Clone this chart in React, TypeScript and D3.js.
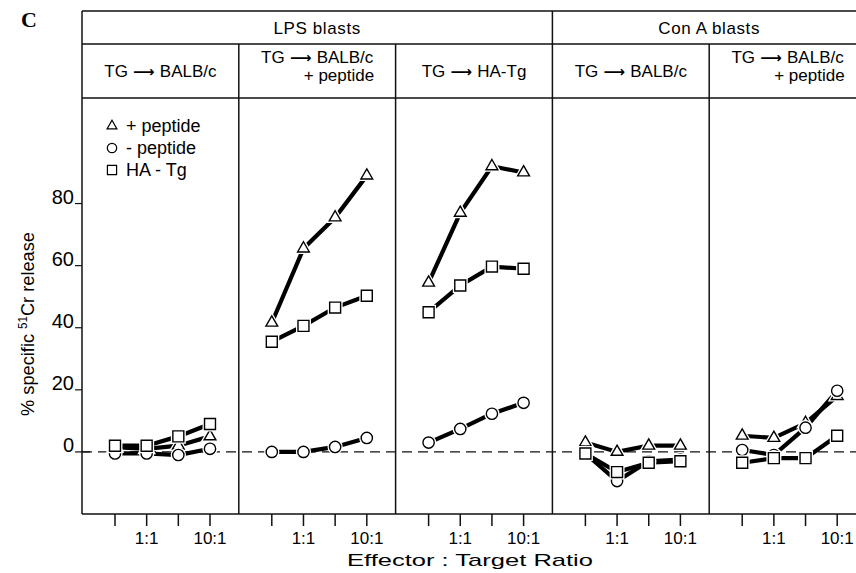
import React from "react";
import * as d3 from "d3";

// effector : target ratios (log-spaced), only two are labelled
const ratios = ["0.3:1", "1:1", "3:1", "10:1"];
const ratioLabels = ["", "1:1", "", "10:1"];
const yTicks = [0, 20, 40, 60, 80];

// header per panel: [source, recipient, second line]
const panelTitles = [
  ["TG", "BALB/c", ""],
  ["TG", "BALB/c", "+ peptide"],
  ["TG", "HA-Tg", ""],
  ["TG", "BALB/c", ""],
  ["TG", "BALB/c", "+ peptide"],
];
const blastLabels = ["LPS blasts", "Con A blasts"];
const blastSpans = [[0, 2], [3, 4]];

// % specific 51Cr release, one row per panel
const plusPeptide = [
  [1.5, 1, 2, 5],
  [41.6, 65.5, 75.5, 89],
  [54.5, 77, 92, 90],
  [3, 0, 2, 2],
  [5.2, 4.5, 9.3, 18],
];
const minusPeptide = [
  [-0.5, -0.5, -1, 1],
  [0, 0, 1.6, 4.5],
  [3, 7.4, 12.3, 15.8],
  [-0.5, -9.4, -3, -2.5],
  [0.6, -1, 7.8, 19.7],
];
const haTg = [
  [2, 2, 5, 9],
  [35.5, 40.6, 46.5, 50.3],
  [45, 53.6, 59.7, 59],
  [-0.5, -6.5, -3.5, -3],
  [-3.5, -2, -2, 5.2],
];

const seriesNames = ["+ peptide", "- peptide", "HA - Tg"];
const seriesData = [plusPeptide, minusPeptide, haTg];
const seriesSymbols = [d3.symbolTriangle, d3.symbolCircle, d3.symbolSquare];
const seriesSizes = [60, 100, 120];

const W = 856, H = 573;
const left = 82, right = 866;
const top = 11, row1 = 44, row2 = 98, bottom = 514;
const font = "'Liberation Sans', Arial, Helvetica, sans-serif";

function Arrow() {
  return <tspan fontFamily="'DejaVu Sans'" fontWeight="bold" fontSize={15}>{" ⟶ "}</tspan>;
}

export default function App() {
  const panelIdx = panelTitles.map((_, i) => i);
  const px = d3.scaleBand<number>().domain(panelIdx).range([left, right]);
  const pw = px.bandwidth();
  const x = d3.scalePoint<string>().domain(ratios).range([33, 128]);
  const y = d3.scaleLinear().domain([-20, 114]).range([bottom, row2]);

  const line = d3.line<number>()
    .x((_, i) => x(ratios[i])!)
    .y(d => y(d));

  return (
    <svg width={W} height={H} style={{ position: "absolute", left: 0, top: 0, display: "block", background: "#fff" }}
      fontFamily={font}>
      <text x={21} y={27} fontFamily="'Liberation Serif', 'DejaVu Serif', serif" fontWeight="bold" fontSize={22}>C</text>

      {/* frame */}
      <g stroke="#111" strokeWidth={1.5} fill="none">
        <line x1={left} x2={right} y1={top} y2={top} />
        <line x1={left} x2={right} y1={row1} y2={row1} />
        <line x1={left} x2={right} y1={row2} y2={row2} />
        <line x1={left} x2={right} y1={bottom} y2={bottom} />
        <line x1={left} x2={left} y1={top} y2={bottom} />
        {panelIdx.slice(1).map(i => (
          <line key={i} x1={px(i)!} x2={px(i)!} y1={i === 3 ? top : row1} y2={bottom} />
        ))}
      </g>

      {/* blast group headers */}
      {blastLabels.map((lab, k) => {
        const x0 = px(blastSpans[k][0])!, x1 = px(blastSpans[k][1])! + pw;
        return (
          <text key={lab} x={(x0 + x1) / 2} y={34} textAnchor="middle" fontSize={17} letterSpacing={0.6}>{lab}</text>
        );
      })}

      {/* panel headers */}
      {panelTitles.map((t, i) => {
        const cx = px(i)! + pw / 2;
        if (!t[2]) {
          return (
            <text key={i} x={cx} y={77} textAnchor="middle" fontSize={17}>
              {t[0]}<Arrow />{t[1]}
            </text>
          );
        }
        return (
          <g key={i} fontSize={17}>
            <text x={cx} y={63} textAnchor="middle">{t[0]}<Arrow />{t[1]}</text>
            <text x={cx + 57} y={81} textAnchor="end">{t[2]}</text>
          </g>
        );
      })}

      {/* y axis */}
      {yTicks.map(v => (
        <g key={v}>
          <line x1={75} x2={v === 0 ? 90 : left} y1={y(v)} y2={y(v)} stroke="#111" strokeWidth={1.2} />
          <text x={74} y={y(v)} textAnchor="end" fontSize={20}>{v}</text>
        </g>
      ))}
      <text transform={`translate(34,${324}) rotate(-90)`} textAnchor="middle" fontSize={19}
        textLength={184} lengthAdjust="spacingAndGlyphs">
        % specific <tspan fontSize={12} dy={-7}>51</tspan><tspan dy={7}>Cr release</tspan>
      </text>

      {/* zero reference */}
      <line x1={left} x2={right} y1={y(0)} y2={y(0)} stroke="#111" strokeWidth={1.3} strokeDasharray="10 6" />

      {/* panels */}
      {panelIdx.map(i => {
        const ox = px(i)!;
        return (
          <g key={i} transform={`translate(${ox},0)`}>
            {ratios.map((r, j) => (
              <g key={r}>
                <line x1={x(r)!} x2={x(r)!} y1={bottom} y2={bottom + 12} stroke="#111" strokeWidth={1.5} />
                {ratioLabels[j] && (
                  <text x={x(r)!} y={544} textAnchor="middle" fontSize={17}>{ratioLabels[j]}</text>
                )}
              </g>
            ))}
            {seriesData.map((s, k) => (
              <path key={k} d={line(s[i])!} fill="none" stroke="#000" strokeWidth={4.2} />
            ))}
            {seriesData.map((s, k) =>
              s[i].map((v, j) => {
                const d = d3.symbol().type(seriesSymbols[k]).size(seriesSizes[k])()!;
                const tr = `translate(${x(ratios[j])},${y(v)})`;
                return (
                  <g key={`${k}-${j}`} transform={tr}>
                    <path d={d} fill="#fff" stroke="#fff" strokeWidth={4} />
                    <path d={d} fill="#fff" stroke="#000" strokeWidth={1.4} />
                  </g>
                );
              })
            )}
          </g>
        );
      })}

      {/* legend */}
      {seriesNames.map((n, k) => {
        const ly = 126 + k * 22;
        return (
          <g key={n}>
            <path transform={`translate(112,${ly})`} d={d3.symbol().type(seriesSymbols[k]).size(seriesSizes[k] * 0.7)()!}
              fill="#fff" stroke="#000" strokeWidth={1.2} />
            <text x={126} y={ly + 6} fontSize={18}>{n}</text>
          </g>
        );
      })}

      <text x={470} y={566} textAnchor="middle" fontSize={17} textLength={246} lengthAdjust="spacingAndGlyphs">
        Effector : Target Ratio
      </text>
    </svg>
  );
}
